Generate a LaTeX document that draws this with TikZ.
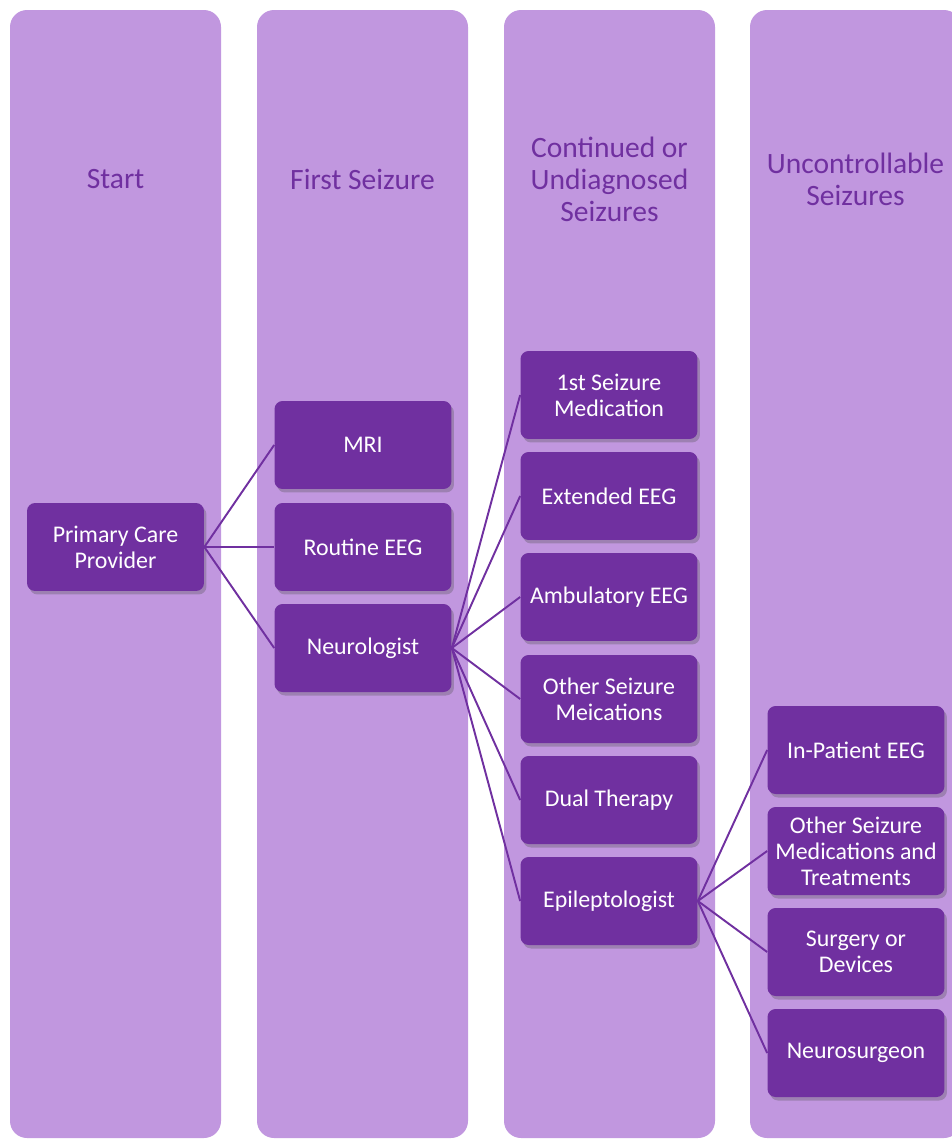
\documentclass[tikz,border=0pt]{standalone}
\usepackage{fontspec}
\setmainfont{Carlito}
\usetikzlibrary{shadows}

\definecolor{lane}{HTML}{C197DF}
\definecolor{deep}{HTML}{7030A0}

\begin{document}
\begin{tikzpicture}[x=0.02cm,y=-0.02cm,
  lanebox/.style={fill=lane,rounded corners=0.34cm},
  title/.style={text=deep,align=center,font=\fontsize{16.8}{18.2}\selectfont},
  task/.style={fill=deep,text=white,rounded corners=0.16cm,align=center,
    minimum width=3.54cm,minimum height=1.76cm,inner sep=1pt,
    font=\fontsize{13.6}{14.8}\selectfont,
    drop shadow={shadow xshift=0.05cm,shadow yshift=-0.07cm,opacity=0.3,fill=black!70}},
  link/.style={draw=deep,line width=1.1pt}]

\useasboundingbox (0,0) rectangle (952,1139);
\clip (0,0) rectangle (952,1139);

% lanes
\fill[lanebox] (10,10) rectangle (221,1138);
\fill[lanebox] (257,10) rectangle (468,1138);
\fill[lanebox] (504,10) rectangle (715,1138);
\fill[lanebox] (750,10) rectangle (961,1138);

\node[title] (tStart) at (115.5,179) {Start};
\node[title] (tFirst) at (362.5,179) {First Seizure};
\node[title] (tCont) at (609.5,179) {Continued or\\Undiagnosed\\Seizures};
\node[title] (tUnc) at (855.5,179) {Uncontrollable\\Seizures};

% start
\node[task] (pcp) at (115.5,547) {Primary Care\\Provider};

% first seizure
\node[task] (mri) at (363,445) {MRI};
\node[task] (reeg) at (363,547) {Routine EEG};
\node[task] (neuro) at (363,648) {Neurologist};

% continued
\node[task] (med1) at (609,395) {1st Seizure\\Medication};
\node[task] (exeeg) at (609,496) {Extended EEG};
\node[task] (ameeg) at (609,597) {Ambulatory EEG};
\node[task] (othmed) at (609,699) {Other Seizure\\Meications};
\node[task] (dual) at (609,800) {Dual Therapy};
\node[task] (epi) at (609,901) {Epileptologist};

% uncontrollable
\node[task] (ipeeg) at (856,750) {In-Patient EEG};
\node[task] (othtr) at (856,851) {Other Seizure\\Medications and\\Treatments};
\node[task] (surg) at (856,952) {Surgery or\\Devices};
\node[task] (nsurg) at (856,1053) {Neurosurgeon};

% links
\foreach \t in {mri,reeg,neuro}
  \draw[link] (pcp.east) -- (\t.west);
\foreach \t in {med1,exeeg,ameeg,othmed,dual,epi}
  \draw[link] (neuro.east) -- (\t.west);
\foreach \t in {ipeeg,othtr,surg,nsurg}
  \draw[link] (epi.east) -- (\t.west);

\end{tikzpicture}
\end{document}
